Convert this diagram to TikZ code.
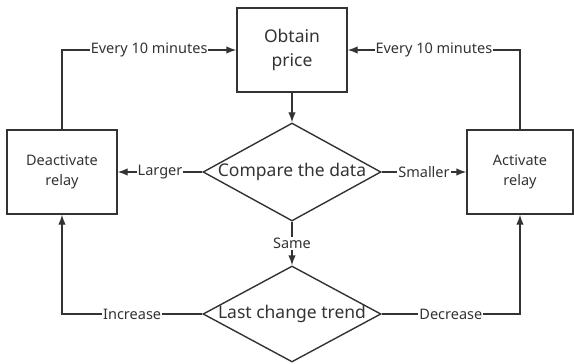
\documentclass[tikz,border=0pt]{standalone}
\usepackage{fontspec}
\setmainfont{Noto Sans}
\usepackage{xcolor}
\usetikzlibrary{shapes,arrows,arrows.meta}
\definecolor{ink}{HTML}{333333}

\begin{document}
\begin{tikzpicture}[x=1pt,y=-1pt]
\tikzstyle{box}=[draw=ink, line width=1.4pt, minimum width=110pt, minimum height=84pt, inner sep=0pt, align=center, text=ink]
\tikzstyle{decision}=[draw=ink, line width=1.4pt, diamond, minimum width=178pt, minimum height=98pt, inner sep=0pt]
\tikzstyle{bigtxt}=[text=ink, inner sep=0pt, font=\fontsize{17.5}{24}\selectfont]
\tikzstyle{flow}=[draw=ink, line width=1.4pt, -{Latex[length=10pt,width=7.5pt]}]
\tikzstyle{tag}=[fill=white, text=ink, inner sep=1pt, font=\fontsize{14.5}{17}\selectfont]
\useasboundingbox (0,0) rectangle (574,364);
\node[box, font=\fontsize{17.5}{24}\selectfont] (obtain) at (292,50) {Obtain\\price};
\node[box, font=\fontsize{14.5}{20}\selectfont] (deact) at (62,172) {Deactivate\\relay};
\node[box, minimum width=106pt, font=\fontsize{14.5}{20}\selectfont] (act) at (520,172) {Activate\\relay};
\node[decision, label={[bigtxt]center:Compare the data}] (cmp) at (292,172) {};
\node[decision, minimum height=96pt, label={[bigtxt]center:Last change trend}] (trend) at (292,314) {};
% main line
\draw[flow] (obtain) -- (cmp);
\draw[flow] (cmp) -- node[tag]{Same} (trend);
\draw[flow] (cmp.west) -- node[tag]{Larger} (deact.east);
\draw[flow] (cmp.east) -- node[tag]{Smaller} (act.west);
% loops back to the price
\draw[flow] (deact) |- node[tag, pos=0.75]{Every 10 minutes} (obtain);
\draw[flow] (act) |- node[tag, pos=0.75]{Every 10 minutes} (obtain);
\draw[flow] (trend) -| node[tag, pos=0.25]{Increase} (deact);
\draw[flow] (trend) -| node[tag, pos=0.25]{Decrease} (act);
\end{tikzpicture}
\end{document}
